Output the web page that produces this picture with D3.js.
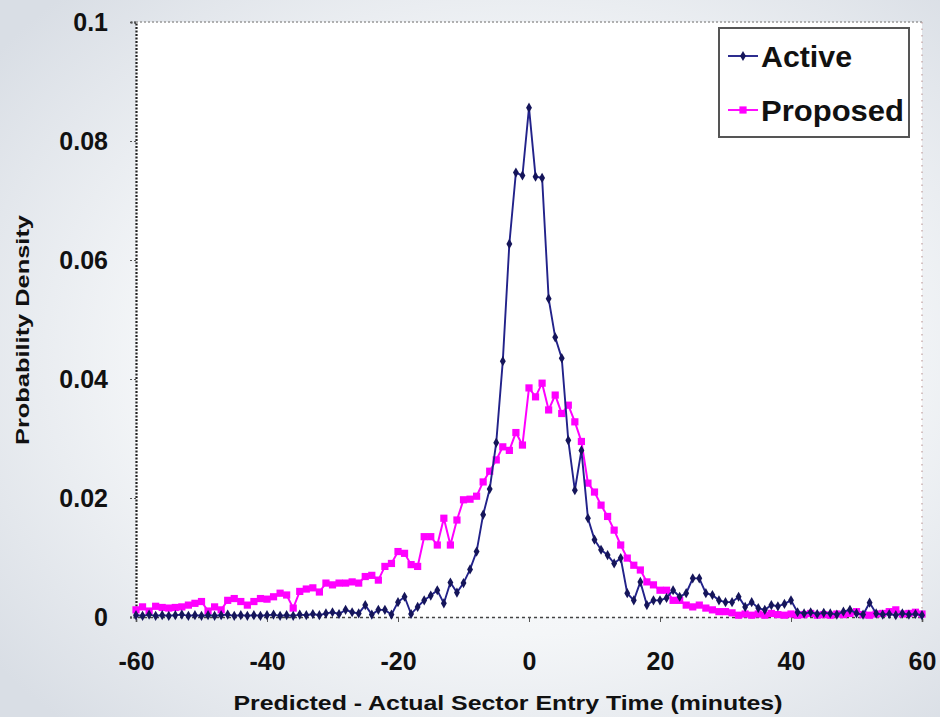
<!DOCTYPE html>
<html>
<head>
<meta charset="utf-8">
<script src="https://cdn.jsdelivr.net/npm/d3@7"></script>
<style>
  body { margin: 0; }
  svg { display: block; }
  text { font-family: "Liberation Sans", Arial, sans-serif; font-weight: bold; fill: #111; }
</style>
</head>
<body>
<script>
// minutes, -60 .. 60 step 1
var minutes = d3.range(-60, 61);

// Active (one value per minute)
var active = [
  0.0003,0.0002,0.0004,0.0002,0.0003,0.0002,0.0003,0.0004,0.0002,0.0003,
  0.0002,0.0003,0.0002,0.0003,0.0004,0.0002,0.0003,0.0002,0.0003,0.0002,
  0.0003,0.0004,0.0002,0.0003,0.0002,
  0.0004,0.0003,0.0005,0.0003,0.0006,0.0008,0.0005,0.0012,0.0008,0.0006,
  0.0020,0.0004,0.0012,0.0012,0.0004,0.0025,0.0034,0.0005,0.0017,0.0028,
  0.0036,0.0045,0.0023,0.0058,0.0041,0.0057,0.0080,0.0110,0.0172,0.0215,
  0.0293,0.0430,0.0627,0.0747,0.0742,0.0856,0.0740,0.0738,0.0535,0.0470,
  0.0435,0.0297,0.0213,0.0280,0.0166,0.0130,0.0113,0.0104,0.0090,0.0099,
  0.0040,0.0028,0.0059,0.0020,0.0028,0.0028,0.0032,0.0045,0.0034,0.0040,
  0.0065,0.0065,0.0040,0.0037,0.0028,0.0025,0.0025,0.0034,0.0017,0.0025,
  0.0015,0.0012,0.0020,0.0018,0.0022,0.0028,0.0008,0.0006,0.0008,0.0005,
  0.0007,0.0006,0.0004,0.0009,0.0012,0.0006,0.0004,0.0024,0.0006,0.0004,
  0.0005,0.0003,0.0006,0.0004,0.0005,0.0003
];

// Proposed
var proposed = [
  0.0012,0.0017,0.0010,0.0018,0.0016,0.0015,0.0016,0.0017,0.0020,0.0023,
  0.0026,0.0010,0.0017,0.0012,0.0028,0.0031,0.0026,0.0020,0.0026,0.0031,
  0.0030,0.0034,0.0040,0.0037,0.0015,0.0043,0.0047,0.0049,0.0042,0.0057,
  0.0054,0.0057,0.0057,0.0059,0.0057,0.0068,0.0070,0.0062,0.0085,0.0090,
  0.0110,0.0107,0.0088,0.0085,0.0135,0.0135,0.0121,0.0166,0.0121,0.0163,
  0.0197,0.0198,0.0203,0.0227,0.0245,0.0264,0.0286,0.0280,0.0310,0.0289,
  0.0385,0.0370,0.0393,0.0348,0.0373,0.0342,0.0356,0.0328,0.0295,0.0225,
  0.0210,0.0188,0.0169,0.0146,0.0121,0.0099,0.0087,0.0079,0.0059,0.0054,
  0.0045,0.0045,0.0028,0.0028,0.0020,0.0017,0.0020,0.0015,0.0012,0.0009,
  0.0009,0.0007,0.0003,0.0005,0.0003,0.0005,0.0003,0.0006,0.0004,0.0003,
  0.0005,0.0003,0.0004,0.0006,0.0003,0.0004,0.0003,0.0005,0.0004,0.0006,
  0.0009,0.0004,0.0003,0.0005,0.0006,0.0009,0.0012,0.0005,0.0006,0.0008,0.0005
];

var xTicks = [-60, -40, -20, 0, 20, 40, 60];
var yTicks = [0, 0.02, 0.04, 0.06, 0.08, 0.1];
var yTickLabels = ["0", "0.02", "0.04", "0.06", "0.08", "0.1"];
var seriesNames = ["Active", "Proposed"];

var w = 940, h = 717;
var pLeft = 136, pRight = 922, pTop = 22, pBottom = 617;

var svg = d3.select("body").append("svg").attr("width", w).attr("height", h);

// background
var defs = svg.append("defs");
var grad = defs.append("radialGradient").attr("id", "bg")
  .attr("cx", "55%").attr("cy", "50%").attr("r", "70%");
grad.append("stop").attr("offset", "0%").attr("stop-color", "#ffffff");
grad.append("stop").attr("offset", "55%").attr("stop-color", "#f4f6f8");
grad.append("stop").attr("offset", "100%").attr("stop-color", "#d9dee5");
svg.append("rect").attr("width", w).attr("height", h).attr("fill", "url(#bg)");

var x = d3.scaleLinear().domain([-60, 60]).range([pLeft, pRight]);
var y = d3.scaleLinear().domain([0, 0.1]).range([pBottom, pTop]);

// plot area
svg.append("rect").attr("x", pLeft).attr("y", pTop)
  .attr("width", pRight - pLeft).attr("height", pBottom - pTop).attr("fill", "#fff");

// borders
svg.append("line").attr("x1", pLeft).attr("x2", pRight).attr("y1", pTop).attr("y2", pTop)
  .attr("stroke", "#999").attr("stroke-width", 1.3).attr("stroke-dasharray", "2,2");
svg.append("line").attr("x1", pRight).attr("x2", pRight).attr("y1", pTop).attr("y2", pBottom)
  .attr("stroke", "#c0a0a0").attr("stroke-width", 1.2).attr("stroke-dasharray", "1.5,5");

// axes
var xAxis = d3.axisBottom(x).tickValues(xTicks).tickSize(5).tickPadding(30)
  .tickFormat(function(d){ return d; });
var gx = svg.append("g").attr("transform", "translate(0," + pBottom + ")").call(xAxis);
gx.attr("font-size", null).attr("font-family", null);
gx.select(".domain").attr("stroke", "#444").attr("stroke-width", 1.6).attr("stroke-dasharray", "3,3");
gx.selectAll(".tick line").attr("stroke", "#555");
gx.selectAll(".tick text").style("font-size", "25px").attr("fill", "#111");

var yAxis = d3.axisLeft(y).tickValues(yTicks).tickSize(6).tickPadding(22)
  .tickFormat(function(d, i){ return yTickLabels[i]; });
var gy = svg.append("g").attr("transform", "translate(" + pLeft + ",0)").call(yAxis);
gy.attr("font-size", null).attr("font-family", null);
gy.select(".domain").attr("stroke", "#222").attr("stroke-width", 2.2).attr("stroke-dasharray", "2,1.5");
gy.selectAll(".tick line").attr("stroke", "#555").attr("stroke-dasharray", "2,2");
gy.selectAll(".tick text").style("font-size", "25px").attr("fill", "#111");

// axis titles
svg.append("text").attr("x", 508).attr("y", 710).attr("text-anchor", "middle")
  .style("font-size", "20px").attr("textLength", 549).attr("lengthAdjust", "spacingAndGlyphs")
  .text("Predicted - Actual Sector Entry Time (minutes)");
svg.append("text").attr("transform", "translate(29,330) rotate(-90)").attr("text-anchor", "middle")
  .style("font-size", "18px").attr("textLength", 230).attr("lengthAdjust", "spacingAndGlyphs")
  .text("Probability Density");

// lines
var line = d3.line().x(function(d){ return x(d[0]); }).y(function(d){ return y(d[1]); });
var propData = minutes.map(function(m, i){ return [m, proposed[i]]; });
var actData = minutes.map(function(m, i){ return [m, active[i]]; });

svg.append("path").datum(propData).attr("d", line)
  .attr("fill", "none").attr("stroke", "#ff00ff").attr("stroke-width", 2);
svg.selectAll("rect.prop").data(propData).enter().append("rect").attr("class", "prop")
  .attr("x", function(d){ return x(d[0]) - 3.6; })
  .attr("y", function(d){ return y(d[1]) - 3.6; })
  .attr("width", 7.2).attr("height", 7.2).attr("fill", "#ff00ff");

svg.append("path").datum(actData).attr("d", line)
  .attr("fill", "none").attr("stroke", "#22228a").attr("stroke-width", 1.9);
var diamond = d3.symbol().type(d3.symbolDiamond).size(30);
svg.selectAll("path.act").data(actData).enter().append("path").attr("class", "act")
  .attr("d", diamond)
  .attr("transform", function(d){ return "translate(" + x(d[0]) + "," + y(d[1]) + ")"; })
  .attr("fill", "#15155a");

// legend
var lg = svg.append("g");
lg.append("rect").attr("x", 719).attr("y", 28).attr("width", 190).attr("height", 109)
  .attr("fill", "#fff").attr("stroke", "#555").attr("stroke-width", 2);
var legColors = ["#22228a", "#ff00ff"];
seriesNames.forEach(function(name, i){
  var ly = 56 + i * 54;
  lg.append("line").attr("x1", 728).attr("x2", 758).attr("y1", ly).attr("y2", ly)
    .attr("stroke", legColors[i]).attr("stroke-width", 1.9);
  if (i === 0) {
    lg.append("path").attr("d", diamond).attr("transform", "translate(743," + ly + ")").attr("fill", "#15155a");
  } else {
    lg.append("rect").attr("x", 739.4).attr("y", ly - 3.6).attr("width", 7.2).attr("height", 7.2).attr("fill", "#ff00ff");
  }
  lg.append("text").attr("x", 761).attr("y", ly + 11).style("font-size", "29px")
    .attr("textLength", i === 0 ? 91 : 143).attr("lengthAdjust", "spacingAndGlyphs")
    .text(name);
});
</script>
</body>
</html>
